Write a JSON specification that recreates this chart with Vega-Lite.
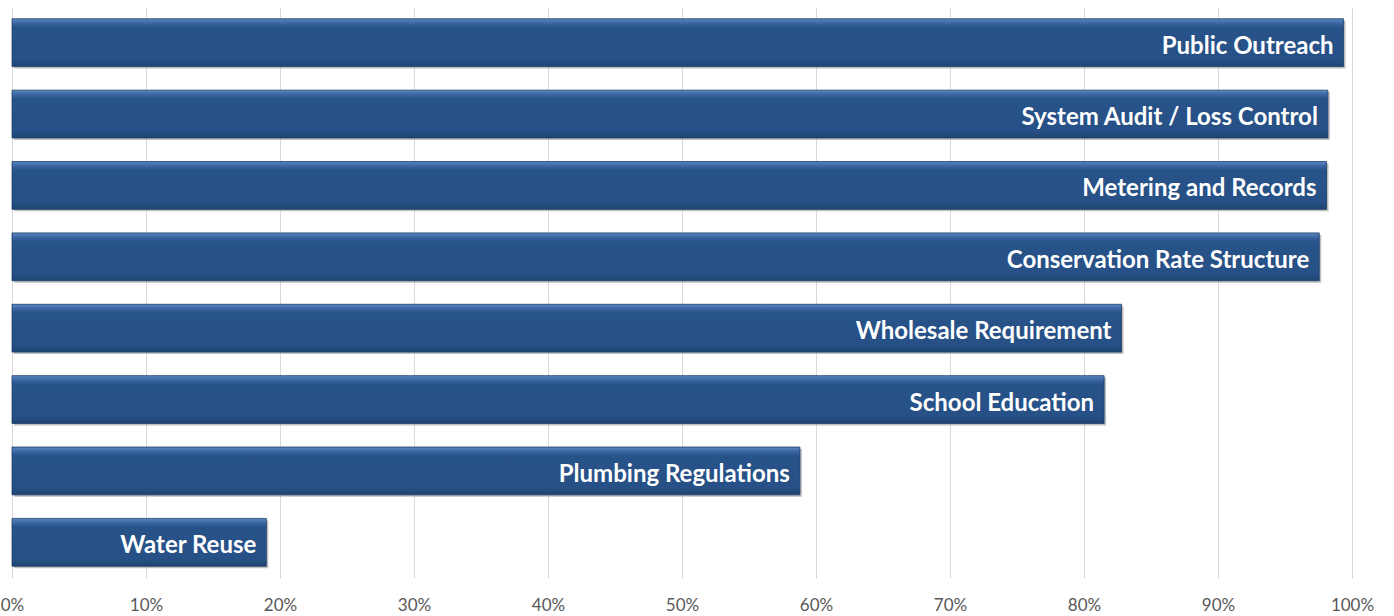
{
  "$schema": "https://vega.github.io/schema/vega-lite/v6.json",
  "autosize": "none",
  "width": 1340,
  "height": 571,
  "padding": {"left": 12, "top": 7, "right": 42, "bottom": 38},
  "background": "white",
  "data": {
    "values": [
      {"practice": "Public Outreach", "share": 0.9937},
      {"practice": "System Audit / Loss Control", "share": 0.982},
      {"practice": "Metering and Records", "share": 0.981},
      {"practice": "Conservation Rate Structure", "share": 0.9756},
      {"practice": "Wholesale Requirement", "share": 0.828},
      {"practice": "School Education", "share": 0.815},
      {"practice": "Plumbing Regulations", "share": 0.588},
      {"practice": "Water Reuse", "share": 0.1898}
    ]
  },
  "encoding": {
    "y": {
      "field": "practice",
      "type": "nominal",
      "sort": null,
      "axis": null,
      "scale": {"paddingInner": 0.33, "paddingOuter": 0.165}
    },
    "x": {
      "field": "share",
      "type": "quantitative",
      "scale": {"domain": [0, 1], "nice": false, "zero": true},
      "axis": {
        "format": "%",
        "values": [0, 0.1, 0.2, 0.3, 0.4, 0.5, 0.6, 0.7, 0.8, 0.9, 1],
        "title": null,
        "domain": false,
        "ticks": false,
        "grid": true,
        "gridColor": "#d9d9d9",
        "gridWidth": 1,
        "labelFont": "Lato",
        "labelFontSize": 17,
        "labelColor": "#595959",
        "labelPadding": 19,
        "labelFlush": false
      }
    }
  },
  "layer": [
    {
      "mark": {"type": "bar", "color": "#8c8c8c", "opacity": 0.55, "xOffset": 2, "yOffset": 2}
    },
    {
      "mark": {
        "type": "bar",
        "stroke": "#1d3f6c",
        "strokeWidth": 0.8,
        "color": {
          "gradient": "linear",
          "x1": 0, "y1": 0, "x2": 0, "y2": 1,
          "stops": [
            {"offset": 0, "color": "#5a86c0"},
            {"offset": 0.1, "color": "#3a64a0"},
            {"offset": 0.18, "color": "#285389"},
            {"offset": 0.85, "color": "#265086"},
            {"offset": 1, "color": "#1f446f"}
          ]
        }
      }
    },
    {
      "mark": {
        "type": "text",
        "align": "right",
        "baseline": "middle",
        "dx": -10,
        "dy": 4,
        "font": "Lato",
        "fontWeight": "bold",
        "fontSize": 24,
        "color": "white"
      },
      "encoding": {"text": {"field": "practice"}}
    }
  ],
  "config": {"view": {"stroke": null}}
}
